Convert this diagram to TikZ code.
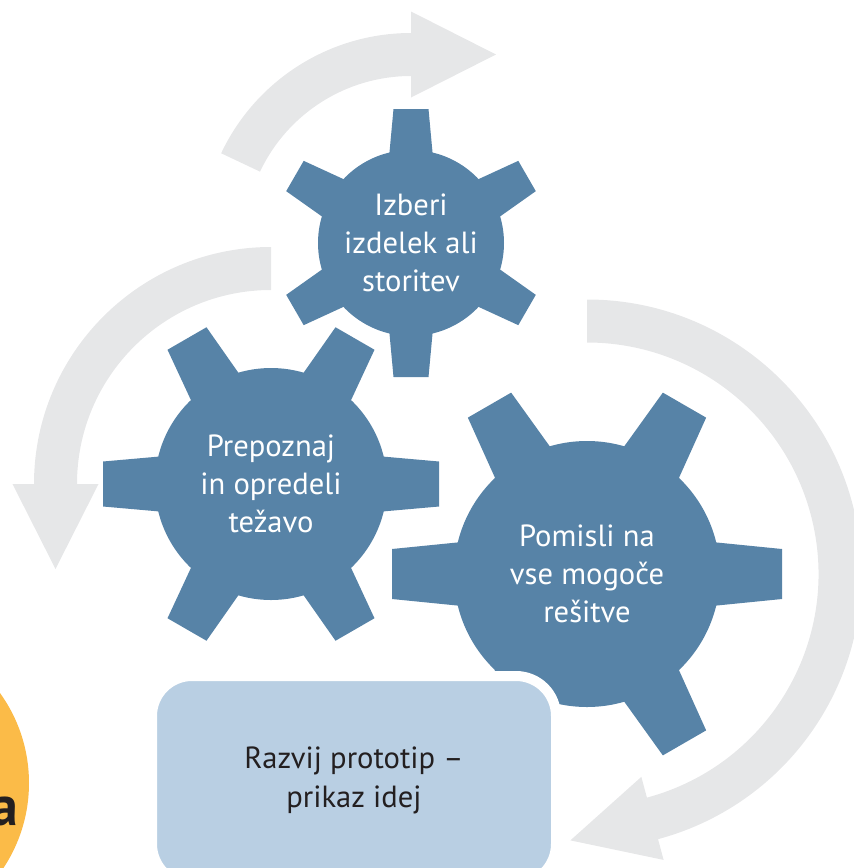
\documentclass[tikz,border=0pt]{standalone}
\usepackage{fontspec}
\setmainfont{PT Sans}
\usepackage{tikz}
\usetikzlibrary{arrows,positioning}
\definecolor{gearblue}{RGB}{87,131,167}
\definecolor{boxblue}{RGB}{185,207,227}
\definecolor{arrowgray}{RGB}{230,231,232}
\definecolor{taborange}{RGB}{251,187,72}
\definecolor{inkdark}{RGB}{35,31,32}

\begin{document}
\begin{tikzpicture}[x=1pt,y=1pt]
\tikzstyle{cog}=[circle,fill=gearblue,text=white,align=center,inner sep=0pt,font=\fontsize{30.6}{38}\selectfont]
\tikzstyle{loop arrow}=[fill=arrowgray]
\tikzstyle{protobox}=[rectangle,rounded corners=40pt,fill=boxblue,draw=white,line width=10pt,text=inkdark,align=center,font=\fontsize{30.6}{39}\selectfont,minimum width=404pt,minimum height=208pt]
\useasboundingbox (0,0) rectangle (854,-868);
\fill[taborange] (-125,-783) circle (154);
\node[anchor=base east,text=inkdark,inner sep=0pt,font=\fontsize{56}{60}\selectfont\bfseries] (tab) at (18,-825) {a};
\node[cog,minimum size=186pt] (g1) at (411,-243) {Izberi\\izdelek ali\\storitev};
\node[cog,minimum size=232pt] (g2) at (271,-484) {Prepoznaj\\in opredeli\\težavo};
\node[cog,minimum size=266pt] (g3) at (587,-574) {Pomisli na\\vse mogoče\\rešitve};
\foreach \a in {30,90,...,330}
  \fill[gearblue,shift={(g1.center)},rotate=\a] (80,-22.5) -- (134,-17.5) -- (134,17.5) -- (80,22.5) -- cycle;
\foreach \a in {0,60,...,300}
  \fill[gearblue,shift={(g2.center)},rotate=\a] (100,-28.5) -- (168,-22.5) -- (168,22.5) -- (100,28.5) -- cycle;
\foreach \a in {0,60,...,300}
  \fill[gearblue,shift={(g3.center)},rotate=\a] (115,-33) -- (195,-25) -- (195,25) -- (115,33) -- cycle;
\foreach \cen/\rot/\sweep/\rad/\tip in {g1/90/64.7/188.5/-85,g2/180/-90/215.5/85,g3/-75/165/253/-85}{
  \pgfmathsetmacro\outr{\rad+21.5}
  \pgfmathsetmacro\innr{\rad-21.5}
  \pgfmathsetmacro\headout{\rad+43}
  \pgfmathsetmacro\headin{\rad-43}
  \fill[loop arrow,shift={(\cen.center)},rotate=\rot] (\sweep:\outr) arc[start angle=\sweep,end angle=0,radius=\outr]
    -- (\headout,0) -- (\rad,\tip) -- (\headin,0) -- (\innr,0) arc[start angle=0,end angle=\sweep,radius=\innr] -- cycle;
}
\node[protobox] (proto) at (354,-780) {Razvij prototip –\\prikaz idej};
\end{tikzpicture}
\end{document}
